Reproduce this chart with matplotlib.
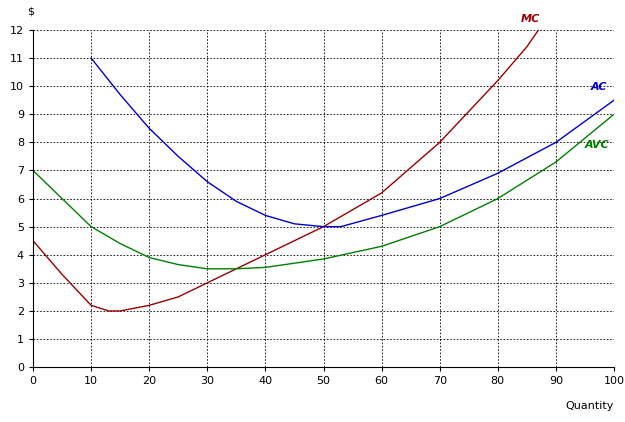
import matplotlib
matplotlib.use("Agg")
import matplotlib.pyplot as plt

mc_x = [0, 5, 10, 13, 15, 20, 25, 30, 40, 50, 60, 70, 80, 85, 87]
mc_y = [4.5, 3.3, 2.2, 2.0, 2.0, 2.2, 2.5, 3.0, 4.0, 5.0, 6.2, 8.0, 10.2, 11.4, 12.0]
ac_x = [10, 15, 20, 25, 30, 35, 40, 45, 50, 53, 60, 70, 80, 90, 100]
ac_y = [11.0, 9.7, 8.5, 7.5, 6.6, 5.9, 5.4, 5.1, 5.0, 5.0, 5.4, 6.0, 6.9, 8.0, 9.5]
avc_x = [0, 5, 10, 15, 20, 25, 30, 35, 40, 50, 60, 70, 80, 90, 100]
avc_y = [7.0, 6.0, 5.0, 4.4, 3.9, 3.65, 3.5, 3.5, 3.55, 3.85, 4.3, 5.0, 6.0, 7.3, 9.0]

fig = plt.figure(figsize=(6.25, 4.22), dpi=100)
ax = fig.add_axes([0.0528, 0.130, 0.9296, 0.799])
ax.set_xlim(0, 100)
ax.set_ylim(0, 12)
ax.set_xticks(range(0, 101, 10))
ax.set_yticks(range(0, 13))
ax.grid(True, color="black", linestyle=(0, (2, 2)), linewidth=0.6)
ax.tick_params(labelsize=8, length=3)
ax.plot(mc_x, mc_y, color="#990000", lw=1)
ax.plot(ac_x, ac_y, color="#0000cc", lw=1)
ax.plot(avc_x, avc_y, color="#008000", lw=1)
for s in ["top", "right"]:
    ax.spines[s].set_visible(False)
ax.text(84, 12.3, "MC", color="#990000", fontsize=8, fontweight="bold", fontstyle="italic")
ax.text(96, 9.85, "AC", color="#0000cc", fontsize=8, fontweight="bold", fontstyle="italic")
ax.text(95, 7.8, "AVC", color="#008000", fontsize=8, fontweight="bold", fontstyle="italic")
fig.text(0.043, 0.965, "$", fontsize=8)
fig.text(0.905, 0.03, "Quantity", fontsize=8)
fig.savefig("out.png", dpi=100)
